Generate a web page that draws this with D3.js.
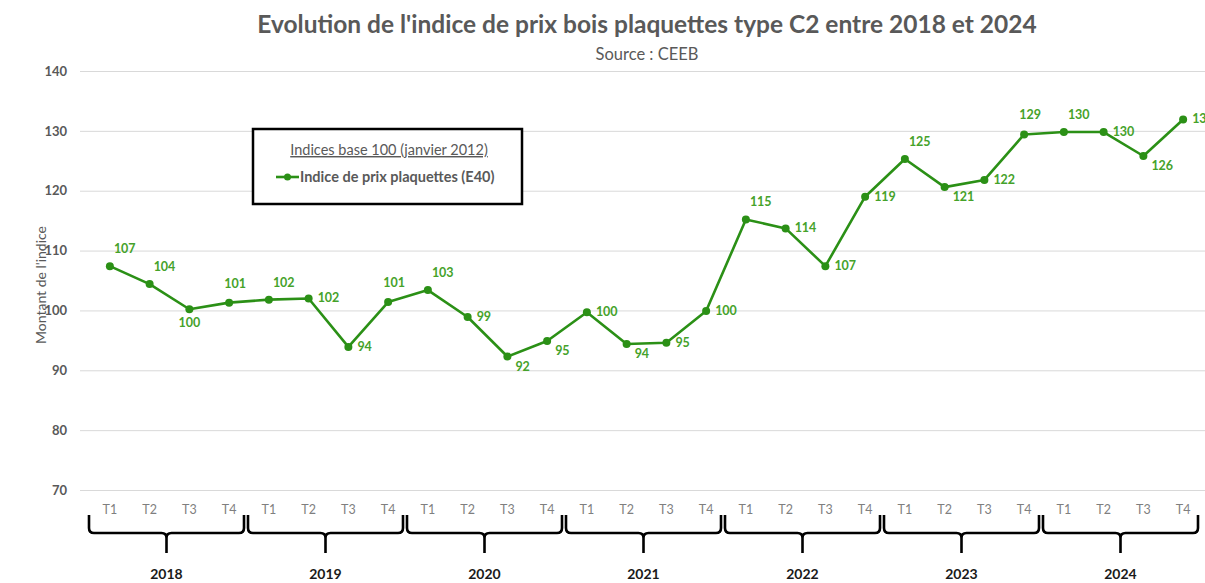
<!DOCTYPE html>
<html>
<head>
<meta charset="utf-8">
<script src="https://cdn.jsdelivr.net/npm/d3@7"></script>
<style>
  html, body { margin: 0; padding: 0; background: #ffffff; }
  svg { display: block; font-family: Lato, "Open Sans", sans-serif; }
</style>
</head>
<body>
<svg id="chart" width="1205" height="583"></svg>
<script>
// ---- data ----
const years = ["2018", "2019", "2020", "2021", "2022", "2023", "2024"];
const quarters = ["T1", "T2", "T3", "T4"];
const values = [
  107.4, 104.4, 100.2, 101.3,
  101.8, 102.0, 93.9, 101.4,
  103.4, 98.9, 92.3, 94.9,
  99.7, 94.4, 94.6, 99.9,
  115.2, 113.7, 107.4, 119.0,
  125.3, 120.6, 121.8, 129.4,
  129.8, 129.8, 125.8, 131.9
];
// label placement codes: a=above, b=below, r=right, ar=above-right, br=below-right
const labelPlacement = [
  "ar", "ar", "b", "a",
  "ar", "r", "r", "a",
  "ar", "r", "br", "br",
  "r", "br", "r", "r",
  "ar", "r", "r", "r",
  "ar", "br", "r", "a",
  "ar", "r", "br", "r"
];
const yTicks = [70, 80, 90, 100, 110, 120, 130, 140];
const titleText = "Evolution de l'indice de prix bois plaquettes type C2 entre 2018 et 2024";
const subtitleText = "Source : CEEB";
const yAxisTitle = "Montant de l'indice";
const legendTitle = "Indices base 100 (janvier 2012)";
const seriesName = "Indice de prix plaquettes (E40)";

// ---- build ----
const keys = [];
years.forEach(y => quarters.forEach(q => keys.push(y + "-" + q)));
const data = keys.map((k, i) => ({ key: k, year: k.split("-")[0], q: k.split("-")[1], v: values[i], pos: labelPlacement[i] }));

const svg = d3.select("#chart");
const lineColor = "#2b9016";
const labelColor = "#45a22a";
const grey = "#595959";

const x = d3.scaleBand().domain(keys).range([90, 1203]);
const cx = k => x(k) + x.bandwidth() / 2;
const y = d3.scaleLinear().domain([70, 140]).range([490, 71]);

// title
svg.append("text").attr("x", 647).attr("y", 33).attr("text-anchor", "middle")
  .attr("font-size", 24.5).attr("font-weight", "bold").attr("fill", grey).text(titleText);
svg.append("text").attr("x", 647).attr("y", 60).attr("text-anchor", "middle")
  .attr("font-size", 16.5).attr("fill", grey).text(subtitleText);

// gridlines + y labels
const yAxis = d3.axisLeft(y).tickValues(yTicks).tickSize(-(1205 - 80)).tickFormat(d3.format("d"));
const gy = svg.append("g").attr("transform", "translate(80,0)").call(yAxis);
gy.select(".domain").remove();
gy.selectAll(".tick line").attr("stroke", "#d9d9d9").attr("stroke-width", 1);
gy.selectAll(".tick text").attr("x", -13).attr("font-size", 13).attr("font-weight", "bold")
  .attr("fill", grey).attr("font-family", "Lato, sans-serif");

// y axis title
svg.append("text").attr("transform", "translate(46,285) rotate(-90)").attr("text-anchor", "middle")
  .attr("font-size", 14).attr("fill", grey).text(yAxisTitle);

// x quarter labels
const xAxis = d3.axisBottom(x).tickSize(0).tickFormat(k => k.split("-")[1]);
const gx = svg.append("g").attr("transform", "translate(0,502)").call(xAxis);
gx.select(".domain").remove();
gx.selectAll(".tick text").attr("font-size", 12.5).attr("fill", "#7f7f7f")
  .attr("font-family", "Lato, sans-serif").attr("dy", "0.35em").attr("y", 8);

// braces per year
const braceTop = 515, braceMid = 533, braceTip = 553;
years.forEach(yr => {
  const k1 = yr + "-T1", k4 = yr + "-T4";
  const x0 = x(k1) - 1, x1 = x(k4) + x.bandwidth() - 5;
  const xm = (x0 + x1) / 2;
  const r = 5;
  const p = d3.path();
  p.moveTo(x0, braceTop);
  p.lineTo(x0, braceMid - r);
  p.quadraticCurveTo(x0, braceMid, x0 + r, braceMid);
  p.lineTo(xm - r, braceMid);
  p.quadraticCurveTo(xm, braceMid, xm, braceMid + r);
  p.lineTo(xm, braceTip);
  p.moveTo(xm, braceMid + r);
  p.quadraticCurveTo(xm, braceMid, xm + r, braceMid);
  p.lineTo(x1 - r, braceMid);
  p.quadraticCurveTo(x1, braceMid, x1, braceMid - r);
  p.lineTo(x1, braceTop);
  svg.append("path").attr("d", p.toString()).attr("fill", "none")
    .attr("stroke", "#000").attr("stroke-width", 2.6).attr("stroke-linejoin", "round");
  svg.append("text").attr("x", xm).attr("y", 579).attr("text-anchor", "middle")
    .attr("font-size", 14).attr("font-weight", "bold").attr("fill", "#1a1a1a").text(yr);
});

// line
const line = d3.line().x(d => cx(d.key)).y(d => y(d.v));
svg.append("path").datum(data).attr("d", line).attr("fill", "none")
  .attr("stroke", lineColor).attr("stroke-width", 2.6).attr("stroke-linejoin", "round");
svg.selectAll("circle.pt").data(data).enter().append("circle").attr("class", "pt")
  .attr("cx", d => cx(d.key)).attr("cy", d => y(d.v)).attr("r", 4).attr("fill", lineColor);

// labels
const offsets = {
  a: [6, -15, "middle"],
  b: [0, 18, "middle"],
  r: [9, 4, "start"],
  ar: [4, -13, "start"],
  br: [8, 14, "start"]
};
svg.selectAll("text.lbl").data(data).enter().append("text").attr("class", "lbl")
  .attr("x", d => cx(d.key) + offsets[d.pos][0])
  .attr("y", d => y(d.v) + offsets[d.pos][1])
  .attr("text-anchor", d => offsets[d.pos][2])
  .attr("font-size", 12.5).attr("font-weight", "bold").attr("fill", labelColor)
  .text(d => d3.format("d")(Math.round(d.v)));

// legend
const lg = svg.append("g");
lg.append("rect").attr("x", 253).attr("y", 129).attr("width", 269).attr("height", 75)
  .attr("fill", "#fff").attr("stroke", "#000").attr("stroke-width", 2.5);
lg.append("text").attr("x", 389).attr("y", 155).attr("text-anchor", "middle")
  .attr("font-size", 14.5).attr("fill", grey).attr("text-decoration", "underline").text(legendTitle);
lg.append("line").attr("x1", 276).attr("x2", 299).attr("y1", 177).attr("y2", 177)
  .attr("stroke", lineColor).attr("stroke-width", 2.6);
lg.append("circle").attr("cx", 287.5).attr("cy", 177).attr("r", 3.5).attr("fill", lineColor);
lg.append("text").attr("x", 300).attr("y", 182).attr("font-size", 14.5).attr("font-weight", "bold")
  .attr("fill", grey).text(seriesName);
</script>
</body>
</html>
